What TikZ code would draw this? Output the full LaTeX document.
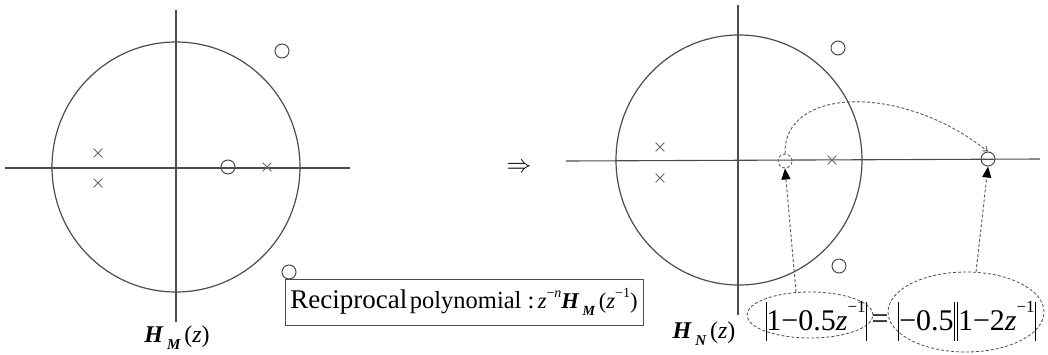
\documentclass[tikz,border=0pt]{standalone}
\usepackage{fontspec}
\setmainfont{Liberation Serif}
\usetikzlibrary{shapes.misc,shapes.geometric,arrows.meta}
\newcommand{\vbar}{\rule[-0.32em]{0.9pt}{1.3em}}
\newcommand{\mysup}[1]{\raisebox{0.6em}{\fontsize{17}{17}\selectfont #1}}
\begin{document}
\begin{tikzpicture}[x=1pt,y=-1pt,
  ax/.style={draw=black!70, line width=1.1pt},
  ucirc/.style={draw=black!70, line width=1.2pt},
  pole/.style={cross out, draw=black!60, line width=0.8pt, minimum size=8pt, inner sep=0pt},
  zero/.style={circle, draw=black!70, line width=1pt, minimum size=14pt, inner sep=0pt},
  dzero/.style={circle, draw=black!60, densely dashed, line width=0.9pt, minimum size=14pt, inner sep=0pt},
  dline/.style={draw=black!60, densely dashed, line width=1pt},
  tip/.style={-{Triangle[length=11pt,width=9pt,black]}},
  ell/.style={ellipse, draw=black!70, densely dashed, line width=0.8pt, inner sep=0pt},
  lbl/.style={inner sep=0pt, font=\fontsize{24}{26}\selectfont}
]
\useasboundingbox (0,0) rectangle (1048,354);
% ---------- left plane ----------
\draw[ax] (5,168) -- (350,168);
\draw[ax] (176,10) -- (176,322);
\draw[ucirc] (176,167) circle[x radius=124, y radius=125];
\node[pole] (lp1) at (98,153) {};
\node[pole] (lp2) at (98,183) {};
\node[pole] (lp3) at (267,167) {};
\node[zero] (lz1) at (228,167) {};
\node[zero] (lz2) at (282,51) {};
\node[zero] (lz3) at (289,272) {};
\node[lbl] (hm) at (177,338) {{\bfseries\itshape H}\,\raisebox{-0.3em}{\fontsize{15}{15}\selectfont\bfseries\itshape M}\,(\textit{z})};
% ---------- arrow ----------
\node[inner sep=0pt, font=\fontsize{26}{26}\selectfont] (imp) at (519,168) {$\Rightarrow$};
% ---------- box ----------
\node[draw=black!70, line width=1pt, minimum width=358pt, minimum height=46pt, inner sep=0pt] (box) at (464,302)
  {{\fontsize{27}{30}\selectfont Reciprocal} {\fontsize{24.5}{26}\selectfont polynomial :} {\fontsize{22.5}{24}\selectfont\textit{z}\raisebox{0.5em}{\fontsize{14}{14}\selectfont −\textit{n}}{\bfseries\itshape H}\,\raisebox{-0.3em}{\fontsize{14}{14}\selectfont\bfseries\itshape M}\,(\textit{z}\raisebox{0.5em}{\fontsize{14}{14}\selectfont −1})}};
% ---------- right plane ----------
\draw[ax] (566,161) -- (1040,159);
\draw[ax] (738,5) -- (738,315);
\draw[ucirc] (739,160) circle[x radius=123, y radius=125];
\node[pole] (rp1) at (660,147) {};
\node[pole] (rp2) at (660,178) {};
\node[pole] (rp3) at (832,160) {};
\node[dzero] (rz1) at (785,161) {};
\node[zero] (rz4) at (988,159) {};
\node[zero] (rz2) at (838,48) {};
\node[zero] (rz3) at (839,266) {};
\node[lbl] (hn) at (704,334) {{\bfseries\itshape H}\,\raisebox{-0.3em}{\fontsize{15}{15}\selectfont\bfseries\itshape N}\,(\textit{z})};
% ---------- equation ----------
\node[ell, minimum width=126pt, minimum height=46pt] (e1) at (810,315) {};
\node[ell, minimum width=156pt, minimum height=80pt] (e2) at (966,312) {};
\node[inner sep=0pt, font=\fontsize{30}{32}\selectfont] (t1) at (816,321) {\vbar1−0.5\textit{z}\mysup{−1}\vbar};
\node[inner sep=0pt, font=\fontsize{30}{32}\selectfont] (eq) at (880,322) {=};
\node[inner sep=0pt, font=\fontsize{30}{32}\selectfont] (t2) at (967,321) {\vbar−0.5\vbar\hspace{2.5pt}\vbar1−2\textit{z}\mysup{−1}\vbar};
% ---------- connectors ----------
\coordinate (s1) at (796,292);
\coordinate (s2) at (976,272);
\draw[dline, tip] (s1) -- (rz1.south);
\draw[dline, tip] (s2) -- (rz4.south);
\draw[dline, -{Straight Barb[length=4pt,width=6pt]}] (rz1.north) .. controls (783,88) and (900,82) .. (rz4.north);
\end{tikzpicture}
\end{document}
